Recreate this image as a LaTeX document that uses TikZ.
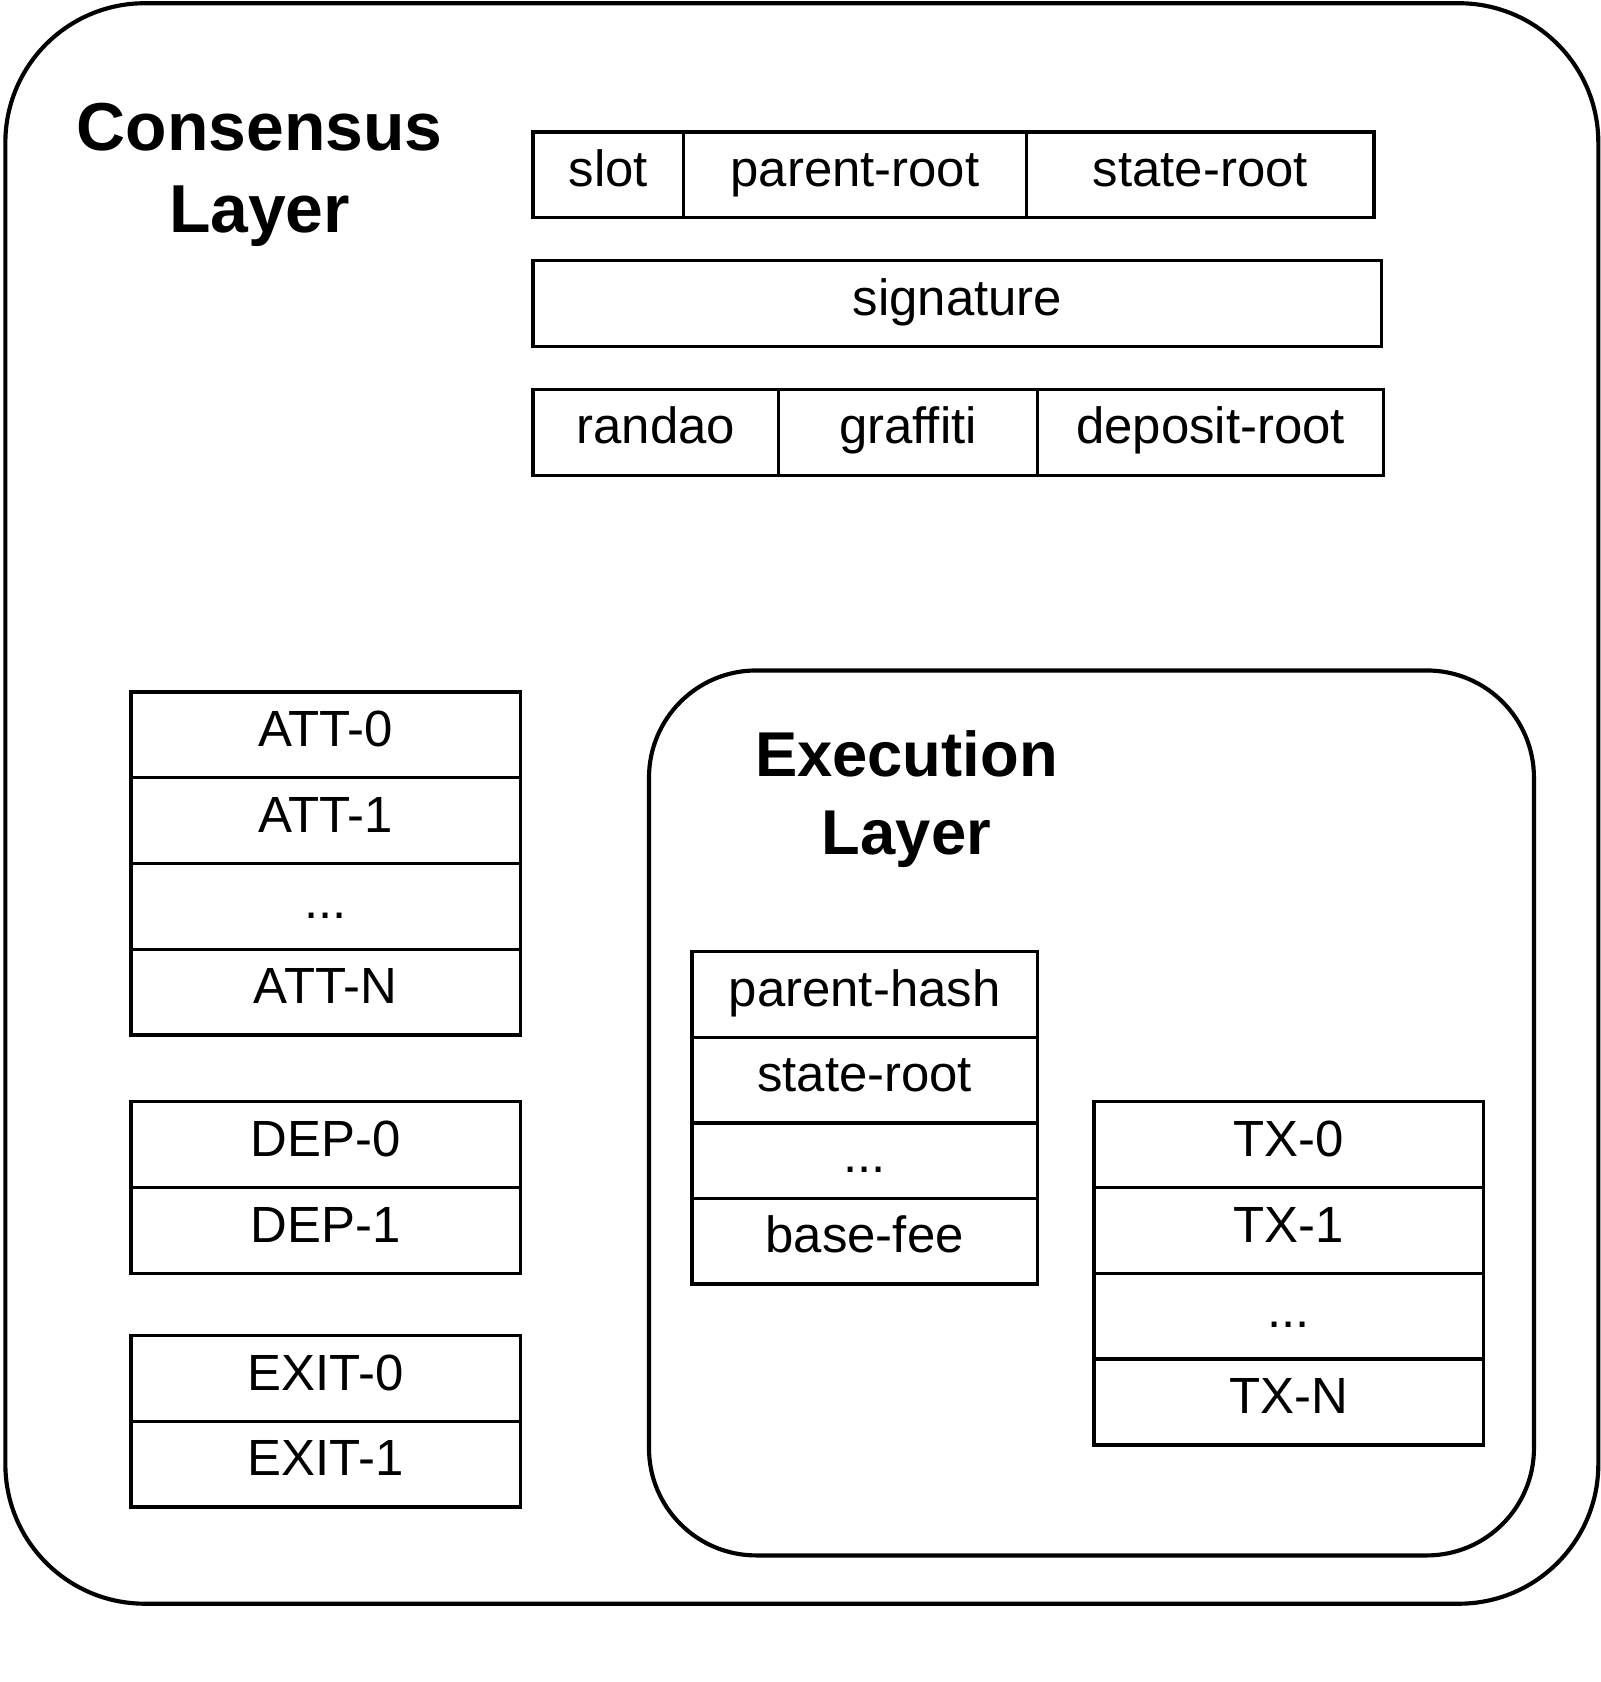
\documentclass[tikz,border=0pt]{standalone}
\usepackage{fontspec}
\setmainfont{Liberation Sans}
\usetikzlibrary{positioning}

\begin{document}
\begin{tikzpicture}[x = 0.1mm, y = -0.1mm, line width = 0.9pt,
    field/.style = {draw, inner sep = 0pt, outer sep = 0pt, minimum height = 8mm,
      text height = 0.72em, text depth = 0.1em, font = \fontsize{13.5}{16}\selectfont},
    layer/.style = {draw, line width = 1.1pt},
    title/.style = {align = center, font = \bfseries\fontsize{18}{22}\selectfont}]
    \useasboundingbox (0,0) rectangle (1492,1568);
    % consensus layer
    \draw [layer, rounded corners = 13mm] (5,3) rectangle (1490,1495);
    \node [title] (cl) at (242,163) {Consensus\\Layer};
    \node [field, minimum width = 14mm, anchor = north west] (slot) at (497,123) {slot};
    \node [field, minimum width = 32mm, right = 0pt of slot] (proot) {parent-root};
    \node [field, minimum width = 32.4mm, right = 0pt of proot] (sroot) {state-root};
    \node [field, minimum width = 79.1mm, anchor = north west] (sig) at (497,243) {signature};
    \node [field, minimum width = 22.9mm, anchor = north west] (randao) at (497,363) {randao};
    \node [field, minimum width = 24.1mm, right = 0pt of randao] (graffiti) {graffiti};
    \node [field, minimum width = 32.3mm, right = 0pt of graffiti] (droot) {deposit-root};
    % attestations, deposits, exits
    \begin{scope}[every node/.append style = {minimum width = 36.3mm}]
      \node [field, anchor = north west] (att0) at (122,645) {ATT-0};
      \node [field, below = 0pt of att0] (att1) {ATT-1};
      \node [field, below = 0pt of att1] (attd) {...};
      \node [field, below = 0pt of attd] (attn) {ATT-N};
      \node [field, anchor = north west] (dep0) at (122,1027) {DEP-0};
      \node [field, below = 0pt of dep0] (dep1) {DEP-1};
      \node [field, anchor = north west] (exit0) at (122,1245) {EXIT-0};
      \node [field, below = 0pt of exit0] (exit1) {EXIT-1};
    \end{scope}
    % execution layer
    \draw [layer, rounded corners = 10mm] (605,625) rectangle (1430,1450);
    \node [title, font = \bfseries\fontsize{16.8}{20.5}\selectfont] (el) at (845,745) {Execution\\Layer};
    \begin{scope}[every node/.append style = {minimum width = 32.2mm}]
      \node [field, anchor = north west] (phash) at (645,887) {parent-hash};
      \node [field, below = 0pt of phash] (eroot) {state-root};
      \node [field, below = 0pt of eroot, minimum height = 7mm] (ed) {...};
      \node [field, below = 0pt of ed] (bfee) {base-fee};
    \end{scope}
    \begin{scope}[every node/.append style = {minimum width = 36.3mm}]
      \node [field, anchor = north west] (tx0) at (1020,1027) {TX-0};
      \node [field, below = 0pt of tx0] (tx1) {TX-1};
      \node [field, below = 0pt of tx1] (txd) {...};
      \node [field, below = 0pt of txd] (txn) {TX-N};
    \end{scope}
\end{tikzpicture}
\end{document}
